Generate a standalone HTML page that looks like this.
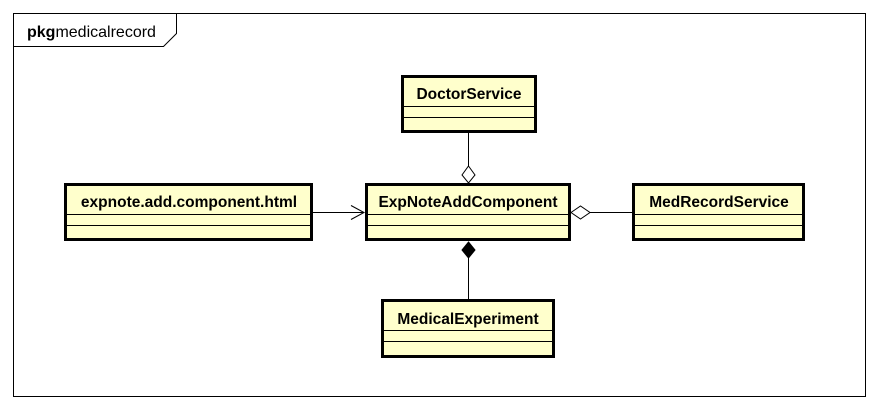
<!DOCTYPE html>
<html><head><meta charset="utf-8"><style>
html,body{margin:0;padding:0;background:#fff;}
svg{display:block;}
text{font-family:"Liberation Sans",Arial,sans-serif;}
</style></head><body>
<svg width="880" height="410" viewBox="0 0 880 410" xmlns="http://www.w3.org/2000/svg">
<rect x="13.5" y="13.5" width="852" height="383" fill="#fff" stroke="#000" stroke-width="1"/>
<polyline points="13.5,46.5 163.5,46.5 176.5,33.5 176.5,13.5" fill="none" stroke="#000" stroke-width="1"/>
<text x="27" y="37" font-size="16"><tspan font-weight="bold">pkg</tspan>medicalrecord</text>

<g stroke="#000" fill="#ffffcc">
<rect x="65.5" y="184.5" width="246" height="55" stroke-width="3"/>
<line x1="65" y1="214.5" x2="312" y2="214.5" stroke-width="1"/>
<line x1="65" y1="225.5" x2="312" y2="225.5" stroke-width="1"/>
<rect x="366.5" y="184.5" width="203" height="55" stroke-width="3"/>
<line x1="366" y1="214.5" x2="570" y2="214.5" stroke-width="1"/>
<line x1="366" y1="225.5" x2="570" y2="225.5" stroke-width="1"/>
<rect x="402.5" y="76.5" width="133" height="55" stroke-width="3"/>
<line x1="402" y1="106.5" x2="536" y2="106.5" stroke-width="1"/>
<line x1="402" y1="117.5" x2="536" y2="117.5" stroke-width="1"/>
<rect x="633.5" y="184.5" width="170" height="55" stroke-width="3"/>
<line x1="633" y1="214.5" x2="804" y2="214.5" stroke-width="1"/>
<line x1="633" y1="225.5" x2="804" y2="225.5" stroke-width="1"/>
<rect x="382.5" y="300.5" width="171" height="56" stroke-width="3"/>
<line x1="382" y1="330.5" x2="554" y2="330.5" stroke-width="1"/>
<line x1="382" y1="341.5" x2="554" y2="341.5" stroke-width="1"/>
</g>

<g font-size="15.5" font-weight="bold" text-anchor="middle" fill="#000">
<text x="189" y="207">expnote.add.component.html</text>
<text x="468" y="207">ExpNoteAddComponent</text>
<text x="469" y="99">DoctorService</text>
<text x="719" y="207">MedRecordService</text>
<text x="468" y="324">MedicalExperiment</text>
</g>

<g stroke="#000" stroke-width="1" fill="none">
<line x1="313" y1="212.5" x2="364" y2="212.5"/>
<polyline points="351,205.5 364,212.5 351,219.5"/>
<line x1="468.5" y1="133" x2="468.5" y2="166"/>
<polygon points="468.5,166 475,175 468.5,183 462,175" fill="#fff"/>
<line x1="590" y1="212.5" x2="632" y2="212.5"/>
<polygon points="571,212.5 580.5,206 590,212.5 580.5,219" fill="#fff"/>
<line x1="468.5" y1="258" x2="468.5" y2="299"/>
<polygon points="468.5,242 475,250 468.5,258 462,250" fill="#000"/>
</g>
</svg>
</body></html>
